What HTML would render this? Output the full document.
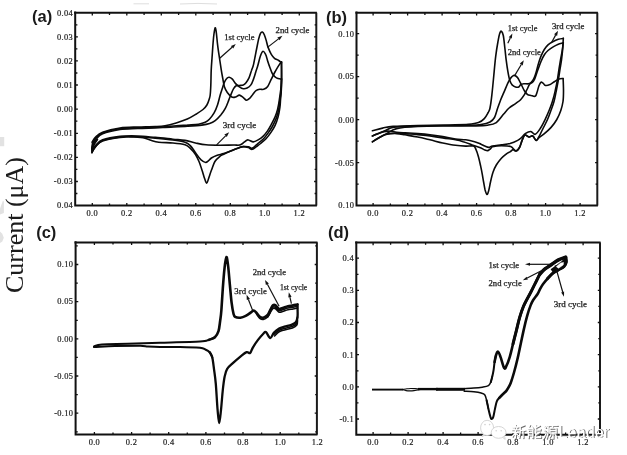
<!DOCTYPE html>
<html><head><meta charset="utf-8"><title>CV curves</title>
<style>
html,body{margin:0;padding:0;background:#fff;}
body{width:627px;height:455px;overflow:hidden;font-family:"Liberation Serif",serif;}
svg{display:block;position:absolute;left:0;top:0;}
.fr{fill:none;stroke:#111;stroke-width:2.0;}
.frr{fill:none;stroke:#1a1a1a;stroke-width:2.0;}
.tk{fill:none;stroke:#111;stroke-width:1.3;}
.tl{font-family:"Liberation Serif",serif;font-size:8.4px;letter-spacing:0.35px;fill:#1c1c1c;stroke:#1c1c1c;stroke-width:0.2;}
.pl{font-family:"Liberation Sans",sans-serif;font-weight:bold;font-size:16.5px;fill:#1a1a1a;}
.cv{fill:none;stroke:#0a0a0a;stroke-width:1.6;stroke-linejoin:round;stroke-linecap:round;}
.cvd{fill:none;stroke:#0a0a0a;stroke-width:2.8;}
.cvo{fill:none;stroke:#0a0a0a;stroke-width:3.0;stroke-linejoin:round;stroke-linecap:round;}
.cvt{fill:none;stroke:#0a0a0a;stroke-width:3.5;stroke-linejoin:round;stroke-linecap:round;}
.cvs{fill:none;stroke:#0a0a0a;stroke-width:1.5;stroke-linejoin:round;stroke-linecap:round;}
.cvm{fill:none;stroke:#0a0a0a;stroke-width:2.0;stroke-linejoin:round;stroke-linecap:round;}
.cvc{fill:none;stroke:#0a0a0a;stroke-width:2.3;stroke-linejoin:round;stroke-linecap:round;}
.cvx{fill:none;stroke:#0a0a0a;stroke-width:1.1;stroke-linejoin:round;stroke-linecap:round;}
.cvb{fill:none;stroke:#0a0a0a;stroke-width:2.6;stroke-linejoin:round;stroke-linecap:round;}
.an{font-family:"Liberation Serif",serif;font-size:8px;fill:#1c1c1c;stroke:#1c1c1c;stroke-width:0.25;}
.ar{fill:none;stroke:#111;stroke-width:1.2;}
.ah{fill:#111;stroke:none;}
.yl{font-family:"Liberation Serif",serif;font-size:24.5px;fill:#1c1c1c;}
svg.blur{filter:blur(0.5px);}
</style></head><body>
<svg width="627" height="455" viewBox="0 0 627 455" class="blur">
<rect width="627" height="455" fill="#fff"/>

<g fill="#e2e2e2">
<rect x="0" y="137" width="4.2" height="9.2"/>
<path d="M0 208.5L3 200.5L3.9 201.5L3.9 213L0 214.6Z"/>
<path d="M0 231.5L2.3 233.8L3.8 237.7L2.3 241.5L0 243Z"/>
</g>
<g stroke="#dedede" stroke-width="1" fill="none">
<path d="M133.5 3.8H149M180 4L198 3.4L217 4"/>
</g>
<text transform="translate(23.3 293.0) rotate(-90)" class="yl" textLength="136" lengthAdjust="spacingAndGlyphs">Current (μA)</text>

<g><path d="M75.2 11.6V205.6H316.9" class="fr"/>
<path d="M74.1 12.7H316.9" class="fr"/>
<path d="M316.3 12.7V205.6" class="frr"/>
<path d="M92.3 12.7v2.7M92.3 205.6v-2.7M109.5 12.7v2.2M109.5 205.6v-2.2M126.8 12.7v2.7M126.8 205.6v-2.7M144.1 12.7v2.2M144.1 205.6v-2.2M161.3 12.7v2.7M161.3 205.6v-2.7M178.6 12.7v2.2M178.6 205.6v-2.2M195.8 12.7v2.7M195.8 205.6v-2.7M213.1 12.7v2.2M213.1 205.6v-2.2M230.3 12.7v2.7M230.3 205.6v-2.7M247.6 12.7v2.2M247.6 205.6v-2.2M264.8 12.7v2.7M264.8 205.6v-2.7M282.1 12.7v2.2M282.1 205.6v-2.2M299.3 12.7v2.7M299.3 205.6v-2.7M75.2 24.8h2.2M316.3 24.8h-1.7M75.2 36.8h2.7M316.3 36.8h-2.2M75.2 48.9h2.2M316.3 48.9h-1.7M75.2 60.9h2.7M316.3 60.9h-2.2M75.2 73.0h2.2M316.3 73.0h-1.7M75.2 85.0h2.7M316.3 85.0h-2.2M75.2 97.1h2.2M316.3 97.1h-1.7M75.2 109.2h2.7M316.3 109.2h-2.2M75.2 121.2h2.2M316.3 121.2h-1.7M75.2 133.3h2.7M316.3 133.3h-2.2M75.2 145.3h2.2M316.3 145.3h-1.7M75.2 157.4h2.7M316.3 157.4h-2.2M75.2 169.4h2.2M316.3 169.4h-1.7M75.2 181.5h2.7M316.3 181.5h-2.2M75.2 193.5h2.2M316.3 193.5h-1.7" class="tk"/>
<text x="73.0" y="15.5" class="tl" text-anchor="end">0.04</text>
<text x="73.0" y="39.7" class="tl" text-anchor="end">0.03</text>
<text x="73.0" y="63.9" class="tl" text-anchor="end">0.02</text>
<text x="73.0" y="88.1" class="tl" text-anchor="end">0.01</text>
<text x="73.0" y="112.1" class="tl" text-anchor="end">0.00</text>
<text x="73.0" y="136.2" class="tl" text-anchor="end">-0.01</text>
<text x="73.0" y="160.3" class="tl" text-anchor="end">-0.02</text>
<text x="73.0" y="184.4" class="tl" text-anchor="end">-0.03</text>
<text x="73.0" y="208.4" class="tl" text-anchor="end">0.04</text>
<text x="92.3" y="215.9" class="tl" text-anchor="middle">0.0</text>
<text x="126.8" y="215.9" class="tl" text-anchor="middle">0.2</text>
<text x="161.3" y="215.9" class="tl" text-anchor="middle">0.4</text>
<text x="195.8" y="215.9" class="tl" text-anchor="middle">0.6</text>
<text x="230.3" y="215.9" class="tl" text-anchor="middle">0.8</text>
<text x="264.8" y="215.9" class="tl" text-anchor="middle">1.0</text>
<text x="299.3" y="215.9" class="tl" text-anchor="middle">1.2</text>
<text x="32.0" y="22.4" class="pl">(a)</text></g>
<g><path d="M356.5 11.6V205.6H597.9" class="fr"/>
<path d="M355.4 12.7H597.9" class="fr"/>
<path d="M597.3 12.7V205.6" class="frr"/>
<path d="M373.1 12.7v2.7M373.1 205.6v-2.7M390.4 12.7v2.2M390.4 205.6v-2.2M407.6 12.7v2.7M407.6 205.6v-2.7M424.9 12.7v2.2M424.9 205.6v-2.2M442.1 12.7v2.7M442.1 205.6v-2.7M459.4 12.7v2.2M459.4 205.6v-2.2M476.6 12.7v2.7M476.6 205.6v-2.7M493.9 12.7v2.2M493.9 205.6v-2.2M511.1 12.7v2.7M511.1 205.6v-2.7M528.4 12.7v2.2M528.4 205.6v-2.2M545.6 12.7v2.7M545.6 205.6v-2.7M562.9 12.7v2.2M562.9 205.6v-2.2M580.1 12.7v2.7M580.1 205.6v-2.7M356.5 33.7h2.7M597.3 33.7h-2.2M356.5 55.2h2.2M597.3 55.2h-1.7M356.5 76.7h2.7M597.3 76.7h-2.2M356.5 98.2h2.2M597.3 98.2h-1.7M356.5 119.6h2.7M597.3 119.6h-2.2M356.5 141.1h2.2M597.3 141.1h-1.7M356.5 162.6h2.7M597.3 162.6h-2.2M356.5 184.1h2.2M597.3 184.1h-1.7" class="tk"/>
<text x="354.3" y="36.5" class="tl" text-anchor="end">0.10</text>
<text x="354.3" y="79.4" class="tl" text-anchor="end">0.05</text>
<text x="354.3" y="122.5" class="tl" text-anchor="end">0.00</text>
<text x="354.3" y="165.5" class="tl" text-anchor="end">-0.05</text>
<text x="354.3" y="208.4" class="tl" text-anchor="end">0.10</text>
<text x="373.1" y="215.9" class="tl" text-anchor="middle">0.0</text>
<text x="407.6" y="215.9" class="tl" text-anchor="middle">0.2</text>
<text x="442.1" y="215.9" class="tl" text-anchor="middle">0.4</text>
<text x="476.6" y="215.9" class="tl" text-anchor="middle">0.6</text>
<text x="511.1" y="215.9" class="tl" text-anchor="middle">0.8</text>
<text x="545.6" y="215.9" class="tl" text-anchor="middle">1.0</text>
<text x="580.1" y="215.9" class="tl" text-anchor="middle">1.2</text>
<text x="326.0" y="23.4" class="pl">(b)</text></g>
<g><path d="M75.6 241.3V434.6H317.5" class="fr"/>
<path d="M74.5 242.4H317.5" class="fr"/>
<path d="M316.9 242.4V434.6" class="frr"/>
<path d="M94.4 242.4v2.7M94.4 434.6v-2.7M113.0 242.4v2.2M113.0 434.6v-2.2M131.6 242.4v2.7M131.6 434.6v-2.7M150.1 242.4v2.2M150.1 434.6v-2.2M168.7 242.4v2.7M168.7 434.6v-2.7M187.3 242.4v2.2M187.3 434.6v-2.2M205.9 242.4v2.7M205.9 434.6v-2.7M224.5 242.4v2.2M224.5 434.6v-2.2M243.0 242.4v2.7M243.0 434.6v-2.7M261.6 242.4v2.2M261.6 434.6v-2.2M280.2 242.4v2.7M280.2 434.6v-2.7M298.8 242.4v2.2M298.8 434.6v-2.2M75.6 245.9h2.2M316.9 245.9h-1.7M75.6 264.5h2.7M316.9 264.5h-2.2M75.6 283.1h2.2M316.9 283.1h-1.7M75.6 301.7h2.7M316.9 301.7h-2.2M75.6 320.3h2.2M316.9 320.3h-1.7M75.6 338.8h2.7M316.9 338.8h-2.2M75.6 357.4h2.2M316.9 357.4h-1.7M75.6 376.0h2.7M316.9 376.0h-2.2M75.6 394.6h2.2M316.9 394.6h-1.7M75.6 413.2h2.7M316.9 413.2h-2.2M75.6 431.8h2.2M316.9 431.8h-1.7" class="tk"/>
<text x="73.4" y="267.3" class="tl" text-anchor="end">0.10</text>
<text x="73.4" y="304.4" class="tl" text-anchor="end">0.05</text>
<text x="73.4" y="341.6" class="tl" text-anchor="end">0.00</text>
<text x="73.4" y="378.8" class="tl" text-anchor="end">-0.05</text>
<text x="73.4" y="416.0" class="tl" text-anchor="end">-0.10</text>
<text x="94.4" y="444.9" class="tl" text-anchor="middle">0.0</text>
<text x="131.6" y="444.9" class="tl" text-anchor="middle">0.2</text>
<text x="168.7" y="444.9" class="tl" text-anchor="middle">0.4</text>
<text x="205.9" y="444.9" class="tl" text-anchor="middle">0.6</text>
<text x="243.0" y="444.9" class="tl" text-anchor="middle">0.8</text>
<text x="280.2" y="444.9" class="tl" text-anchor="middle">1.0</text>
<text x="317.4" y="444.9" class="tl" text-anchor="middle">1.2</text>
<text x="36.2" y="237.8" class="pl">(c)</text></g>
<g><path d="M356.3 241.4V434.8H600.6" class="fr"/>
<path d="M355.2 242.5H600.6" class="fr"/>
<path d="M600.0 242.5V434.8" class="frr"/>
<path d="M373.1 242.5v2.7M373.1 434.8v-2.7M390.6 242.5v2.2M390.6 434.8v-2.2M408.1 242.5v2.7M408.1 434.8v-2.7M425.6 242.5v2.2M425.6 434.8v-2.2M443.1 242.5v2.7M443.1 434.8v-2.7M460.6 242.5v2.2M460.6 434.8v-2.2M478.1 242.5v2.7M478.1 434.8v-2.7M495.6 242.5v2.2M495.6 434.8v-2.2M513.1 242.5v2.7M513.1 434.8v-2.7M530.6 242.5v2.2M530.6 434.8v-2.2M548.1 242.5v2.7M548.1 434.8v-2.7M565.6 242.5v2.2M565.6 434.8v-2.2M583.1 242.5v2.7M583.1 434.8v-2.7M356.3 258.2h2.7M600.0 258.2h-2.2M356.3 274.3h2.2M600.0 274.3h-1.7M356.3 290.4h2.7M600.0 290.4h-2.2M356.3 306.4h2.2M600.0 306.4h-1.7M356.3 322.5h2.7M600.0 322.5h-2.2M356.3 338.6h2.2M600.0 338.6h-1.7M356.3 354.7h2.7M600.0 354.7h-2.2M356.3 370.8h2.2M600.0 370.8h-1.7M356.3 386.8h2.7M600.0 386.8h-2.2M356.3 402.9h2.2M600.0 402.9h-1.7M356.3 419.0h2.7M600.0 419.0h-2.2" class="tk"/>
<text x="354.1" y="261.0" class="tl" text-anchor="end">0.4</text>
<text x="354.1" y="293.3" class="tl" text-anchor="end">0.3</text>
<text x="354.1" y="325.4" class="tl" text-anchor="end">0.2</text>
<text x="354.1" y="357.5" class="tl" text-anchor="end">0.1</text>
<text x="354.1" y="389.6" class="tl" text-anchor="end">0.0</text>
<text x="354.1" y="421.8" class="tl" text-anchor="end">-0.1</text>
<text x="373.1" y="444.9" class="tl" text-anchor="middle">0.0</text>
<text x="408.1" y="444.9" class="tl" text-anchor="middle">0.2</text>
<text x="443.1" y="444.9" class="tl" text-anchor="middle">0.4</text>
<text x="478.1" y="444.9" class="tl" text-anchor="middle">0.6</text>
<text x="513.1" y="444.9" class="tl" text-anchor="middle">0.8</text>
<text x="548.1" y="444.9" class="tl" text-anchor="middle">1.0</text>
<text x="583.1" y="444.9" class="tl" text-anchor="middle">1.2</text>
<text x="328.0" y="238.2" class="pl">(d)</text></g>
<g><path class="cv" d="M92.0 142.2C92.6 141.4 93.7 138.8 95.5 137.2C97.3 135.5 98.5 133.8 102.6 132.3C106.7 130.8 114.2 128.9 120.0 128.0C125.8 127.1 131.8 127.2 137.7 127.0C143.6 126.8 150.8 126.7 155.3 126.5C159.9 126.3 161.5 126.3 165.0 125.7C168.5 125.1 172.5 124.0 176.2 122.9C179.9 121.8 184.0 120.5 187.3 119.0C190.7 117.5 193.7 115.6 196.3 114.0C198.9 112.4 201.2 111.0 203.0 109.5C204.8 108.0 205.9 106.7 206.9 105.0C207.9 103.3 208.6 101.2 209.1 99.5C209.6 97.8 209.9 97.3 210.2 95.0C210.5 92.7 210.6 89.6 210.8 85.5C211.0 81.4 211.0 74.9 211.2 70.4C211.4 65.9 211.7 62.3 212.0 58.3C212.3 54.3 212.5 50.6 212.8 46.6C213.1 42.6 213.5 37.6 213.9 34.5C214.3 31.4 214.8 28.0 215.2 27.8C215.6 27.6 216.0 30.4 216.4 33.4C216.8 36.4 217.1 41.2 217.7 45.6C218.2 50.0 219.1 55.4 219.7 59.5C220.3 63.6 220.8 66.9 221.3 70.2C221.8 73.5 222.4 76.3 222.9 79.1C223.4 81.9 223.7 84.6 224.4 86.8C225.1 89.0 226.1 90.8 227.3 92.5C228.5 94.2 230.4 96.2 231.8 97.0C233.2 97.8 234.3 97.3 235.6 97.0C236.9 96.7 238.1 95.0 239.4 95.1C240.7 95.2 242.1 96.8 243.3 97.6C244.5 98.4 245.4 100.1 246.5 100.2C247.6 100.3 248.5 99.3 249.6 98.3C250.7 97.3 251.7 95.7 252.8 94.4C253.9 93.1 254.8 91.4 256.0 90.6C257.2 89.8 258.5 89.5 259.8 89.3C261.1 89.1 262.4 89.7 263.7 89.3C265.0 88.9 266.2 88.5 267.5 86.8C268.8 85.1 270.0 81.6 271.3 79.1C272.6 76.5 273.9 73.8 275.2 71.5C276.5 69.2 277.9 66.7 279.0 65.1C280.1 63.5 281.1 62.4 281.5 61.9"/>
<path class="cv" d="M92.5 143.5C93.1 142.6 94.3 139.8 96.0 138.0C97.7 136.2 98.6 134.5 102.6 133.0C106.6 131.5 114.2 129.7 120.0 128.8C125.8 127.9 131.8 128.1 137.7 127.8C143.6 127.5 150.8 127.5 155.3 127.3C159.9 127.1 161.5 127.1 165.0 126.8C168.5 126.5 172.5 126.0 176.2 125.7C179.9 125.4 183.6 125.3 187.3 125.1C191.0 124.8 195.5 124.7 198.5 124.2C201.5 123.7 203.3 123.2 205.2 122.3C207.0 121.4 208.1 120.6 209.6 119.0C211.1 117.4 212.8 115.2 214.1 112.9C215.4 110.6 216.5 108.0 217.5 105.0C218.5 102.0 219.4 97.8 220.2 95.0C221.0 92.2 221.7 90.5 222.3 88.5C223.0 86.5 223.4 84.7 224.1 83.0C224.8 81.3 225.8 79.5 226.7 78.5C227.5 77.5 228.2 77.1 229.2 77.2C230.1 77.3 231.3 78.0 232.4 79.1C233.5 80.2 234.4 82.3 235.6 83.6C236.8 84.9 238.1 85.9 239.4 86.8C240.7 87.7 242.0 88.5 243.3 88.7C244.6 88.9 245.8 88.6 247.1 88.0C248.4 87.4 249.8 86.4 250.9 84.9C252.0 83.4 252.7 81.2 253.5 79.1C254.3 77.0 255.0 74.5 255.7 72.2C256.4 69.9 257.1 68.0 257.9 65.2C258.7 62.5 259.6 58.0 260.5 55.7C261.4 53.4 262.1 51.5 263.0 51.3C263.9 51.1 264.9 52.9 265.6 54.4C266.4 55.9 266.8 58.2 267.5 60.4C268.2 62.6 269.1 65.4 270.0 67.7C270.9 70.0 271.5 72.3 272.6 74.0C273.7 75.7 274.9 77.1 276.4 77.9C277.9 78.8 280.6 78.9 281.5 79.1"/>
<path class="cv" d="M93.0 145.0C93.6 144.0 94.9 140.9 96.5 139.0C98.1 137.1 98.7 135.4 102.6 133.8C106.5 132.2 114.2 130.4 120.0 129.5C125.8 128.6 131.8 128.8 137.7 128.5C143.6 128.2 150.8 128.1 155.3 127.9C159.9 127.7 159.7 127.7 165.0 127.4C170.3 127.1 181.2 126.7 187.3 126.3C193.4 125.9 198.1 125.6 201.8 125.1C205.5 124.6 207.4 124.2 209.6 123.5C211.8 122.8 213.3 122.1 215.2 120.7C217.1 119.3 219.1 117.1 220.8 115.1C222.5 113.0 224.0 110.8 225.3 108.4C226.6 106.0 227.7 102.9 228.6 100.6C229.5 98.3 230.2 96.4 231.0 94.4C231.8 92.4 232.7 90.0 233.6 88.6C234.5 87.2 235.2 86.3 236.2 85.8C237.2 85.3 238.2 85.7 239.4 85.5C240.6 85.3 242.2 85.3 243.3 84.9C244.4 84.5 244.9 84.2 245.8 83.0C246.8 81.8 248.0 80.0 249.0 77.9C250.0 75.8 250.8 72.4 251.6 70.2C252.3 68.0 252.8 67.6 253.5 64.6C254.2 61.5 255.2 56.1 256.0 51.9C256.9 47.6 257.9 42.2 258.6 39.1C259.4 36.0 259.9 34.6 260.5 33.4C261.1 32.2 261.8 31.9 262.4 32.1C263.0 32.3 263.7 33.3 264.3 34.7C264.9 36.1 265.6 38.3 266.2 40.4C266.8 42.5 267.2 45.1 268.1 47.4C269.0 49.7 270.2 52.6 271.3 54.4C272.4 56.2 273.3 57.3 274.5 58.3C275.7 59.3 277.1 59.5 278.3 60.2C279.5 60.9 281.0 62.3 281.5 62.7"/>
<path class="cv" d="M281.5 61.9C281.5 64.9 281.8 75.0 281.7 80.0C281.6 85.0 281.4 88.7 281.2 92.0C281.0 95.3 280.7 97.5 280.5 100.0C280.3 102.5 280.3 104.5 279.9 107.3C279.5 110.1 278.9 113.9 278.1 116.9C277.3 119.9 276.3 122.8 275.1 125.4C273.9 128.0 272.3 130.4 270.8 132.6C269.3 134.8 267.7 136.9 266.0 138.7C264.3 140.5 262.2 142.2 260.6 143.5C259.0 144.8 257.7 145.7 256.5 146.6C255.3 147.5 254.4 148.4 253.5 148.8C252.6 149.2 252.1 149.5 251.2 149.3C250.3 149.1 249.7 147.9 248.3 147.5C246.9 147.1 244.8 146.5 243.0 146.6C241.2 146.7 239.8 147.6 237.7 148.3C235.6 149.0 233.0 150.0 230.7 151.0C228.4 152.0 225.5 153.3 223.7 154.2C221.9 155.1 221.6 155.0 220.1 156.2C218.6 157.4 216.3 159.2 214.9 161.5C213.5 163.8 212.5 167.5 211.4 170.3C210.3 173.1 209.4 176.3 208.6 178.5C207.8 180.7 207.4 183.2 206.7 183.2C206.0 183.2 205.3 180.4 204.6 178.5C203.9 176.6 203.5 174.8 202.6 172.0C201.7 169.2 200.2 164.4 199.0 161.5C197.8 158.6 196.9 156.7 195.5 154.5C194.1 152.3 192.1 149.9 190.3 148.3C188.6 146.7 187.9 145.7 185.0 144.8C182.1 143.9 177.3 143.4 172.9 143.0C168.5 142.6 162.6 142.7 158.8 142.2C155.0 141.7 152.6 140.7 150.0 140.0C147.4 139.3 146.3 138.4 143.0 137.8C139.7 137.2 133.8 136.8 130.0 136.6C126.2 136.4 124.7 136.2 120.1 136.9C115.5 137.6 106.7 138.9 102.6 140.6C98.5 142.2 97.3 144.8 95.5 146.8C93.7 148.8 92.6 151.7 92.0 152.7"/>
<path class="cv" d="M281.5 79.1C281.4 81.2 281.3 88.5 281.0 92.0C280.7 95.5 280.3 97.0 279.9 100.0C279.5 103.0 279.3 106.7 278.7 109.7C278.1 112.7 277.3 115.4 276.3 118.1C275.3 120.8 273.9 123.6 272.6 126.0C271.3 128.4 269.9 130.5 268.4 132.6C266.9 134.7 265.3 136.9 263.6 138.7C261.9 140.5 259.6 142.0 258.1 143.3C256.6 144.6 255.5 145.8 254.6 146.6C253.7 147.4 253.2 147.7 252.6 148.0C252.0 148.3 251.9 148.4 251.2 148.2C250.5 148.0 249.7 147.1 248.3 146.8C246.9 146.5 244.8 146.3 243.0 146.6C241.2 146.8 239.8 147.6 237.7 148.3C235.6 149.0 233.0 150.1 230.7 151.0C228.4 151.9 226.0 152.9 223.7 153.6C221.3 154.3 218.6 154.7 216.6 155.4C214.6 156.1 213.2 156.8 211.4 158.0C209.6 159.2 207.8 162.1 206.0 162.4C204.2 162.7 202.6 161.3 200.8 159.7C199.1 158.1 197.2 155.0 195.5 152.7C193.8 150.4 192.1 147.4 190.3 145.7C188.6 143.9 187.9 143.1 185.0 142.2C182.1 141.2 177.8 140.7 172.9 140.0C168.0 139.3 161.2 138.7 155.3 138.2C149.4 137.7 143.6 136.9 137.7 136.8C131.8 136.7 125.9 136.7 120.1 137.4C114.2 138.1 106.6 139.5 102.6 141.0C98.6 142.5 97.7 144.4 96.0 146.2C94.3 147.9 92.9 150.6 92.3 151.5"/>
<path class="cv" d="M281.5 62.7C281.4 66.4 281.6 78.8 281.2 85.0C280.8 91.2 279.9 95.9 279.3 100.0C278.7 104.1 278.2 106.9 277.5 109.7C276.8 112.5 276.1 114.5 275.1 116.9C274.1 119.3 272.7 121.8 271.4 124.2C270.1 126.6 268.6 129.4 267.2 131.4C265.8 133.4 264.5 134.9 263.0 136.3C261.5 137.7 259.7 139.0 258.1 139.9C256.5 140.8 254.7 141.8 253.3 141.9C251.9 142.0 250.7 140.8 249.7 140.5C248.7 140.2 248.3 139.6 247.3 139.9C246.3 140.2 244.9 141.6 243.8 142.4C242.8 143.2 242.0 144.0 241.0 144.5C240.0 145.0 239.1 145.1 238.0 145.2C236.9 145.3 237.2 145.0 234.2 145.0C231.2 145.0 224.7 145.2 220.0 145.2C215.3 145.2 210.1 145.2 206.0 144.8C201.9 144.4 199.0 143.7 195.5 143.0C192.0 142.3 188.8 141.0 185.0 140.4C181.2 139.8 177.8 139.7 172.9 139.2C168.0 138.7 161.2 137.9 155.3 137.4C149.4 136.9 143.6 136.2 137.7 136.0C131.8 135.8 125.9 135.8 120.1 136.4C114.2 137.0 106.7 138.3 102.6 139.8C98.5 141.3 97.2 143.8 95.5 145.5C93.8 147.2 93.0 149.2 92.5 150.0"/>
<path class="cv" d="M92.0 152.7C92.0 152.0 91.8 149.8 91.8 148.5C91.8 147.2 92.0 146.0 92.2 145.0C92.4 144.0 93.0 143.0 93.2 142.6"/>
<path class="cv" d="M92.3 151.5C92.3 150.8 92.4 148.7 92.6 147.5C92.8 146.3 93.0 145.6 93.4 144.6C93.8 143.6 94.7 142.0 95.0 141.5"/>
<path class="cv" d="M92.5 150.0C92.7 149.4 93.0 147.6 93.4 146.5C93.8 145.4 94.3 144.3 95.0 143.2C95.7 142.0 97.1 140.2 97.5 139.6"/>
<path class="cv" d="M372.4 130.8C374.1 130.4 379.2 128.8 382.6 128.1C386.1 127.4 387.2 126.8 393.1 126.4C399.0 126.0 408.4 125.7 417.7 125.5C427.0 125.3 440.6 125.2 449.0 125.0C457.4 124.8 463.4 124.8 468.3 124.4C473.2 124.0 475.8 123.6 478.5 122.6C481.2 121.6 482.7 120.3 484.3 118.6C485.9 116.9 487.2 114.3 488.2 112.5C489.1 110.7 489.4 111.0 490.0 108.0C490.6 105.0 491.3 100.0 491.9 94.6C492.5 89.2 493.2 81.9 493.8 75.5C494.4 69.1 495.0 62.0 495.7 56.4C496.4 50.8 497.2 45.8 497.9 42.0C498.6 38.2 499.1 35.4 499.7 33.6C500.3 31.8 500.7 30.9 501.3 31.2C501.9 31.5 502.7 32.6 503.3 35.5C503.9 38.4 504.4 44.4 504.9 48.5C505.4 52.6 505.7 56.3 506.2 60.2C506.7 64.1 507.3 68.3 507.9 71.7C508.5 75.1 509.1 78.4 509.8 80.6C510.5 82.8 511.3 84.0 512.3 85.1C513.2 86.2 514.4 86.7 515.5 87.0C516.6 87.3 517.9 87.4 518.7 87.0C519.6 86.6 519.8 85.3 520.6 84.8C521.5 84.3 522.5 84.0 523.8 83.8C525.1 83.6 526.9 84.0 528.3 83.8C529.7 83.6 531.0 83.2 532.1 82.5C533.2 81.8 533.7 81.4 534.6 79.3C535.5 77.2 536.7 73.0 537.8 70.0C538.9 67.0 539.9 64.1 541.0 61.5C542.1 58.9 543.3 56.3 544.5 54.5C545.7 52.7 546.5 51.8 548.0 50.5C549.5 49.2 551.9 47.6 553.6 46.6C555.3 45.6 556.7 44.9 558.3 44.2C559.9 43.6 562.5 43.0 563.3 42.7"/>
<path class="cv" d="M372.4 136.0C373.5 135.5 376.7 134.2 379.0 133.2C381.3 132.2 383.5 131.2 386.0 130.2C388.5 129.2 388.7 127.9 394.0 127.2C399.3 126.5 408.5 126.3 417.7 126.0C426.9 125.7 440.6 125.6 449.0 125.5C457.4 125.4 463.0 125.5 468.3 125.3C473.6 125.1 477.4 125.0 481.0 124.5C484.6 124.0 487.8 123.2 490.0 122.0C492.2 120.8 493.2 119.8 494.5 117.5C495.8 115.2 496.7 110.9 497.7 108.0C498.7 105.1 499.6 102.7 500.6 100.0C501.7 97.3 502.6 95.3 504.0 92.1C505.4 88.9 507.5 83.4 509.1 80.6C510.7 77.8 512.2 76.0 513.6 75.5C515.0 75.0 516.2 76.1 517.4 77.4C518.6 78.7 519.4 81.0 520.6 83.2C521.8 85.4 523.2 88.9 524.4 90.8C525.6 92.7 526.5 93.8 527.6 94.6C528.7 95.4 529.7 95.2 531.0 95.5C532.3 95.8 534.4 96.9 535.4 96.2C536.4 95.5 536.7 93.2 537.3 91.5C537.9 89.8 538.2 87.7 538.8 86.2C539.4 84.7 540.1 82.8 540.8 82.3C541.5 81.8 542.3 82.6 543.1 83.1C543.9 83.6 544.2 85.2 545.4 85.4C546.5 85.7 548.5 85.2 550.0 84.6C551.5 83.9 553.2 82.4 554.6 81.5C556.0 80.6 557.1 79.7 558.5 79.2C559.9 78.7 562.3 78.6 563.1 78.5"/>
<path class="cv" d="M372.4 141.8C373.5 141.1 376.7 139.1 379.0 137.8C381.3 136.5 383.1 135.5 386.0 134.0C388.9 132.5 391.3 129.8 396.6 128.6C401.9 127.3 409.0 126.9 417.7 126.5C426.4 126.1 439.5 126.1 449.0 126.0C458.5 125.9 468.2 126.0 474.6 125.9C481.0 125.8 483.8 125.8 487.4 125.2C491.0 124.7 493.6 124.5 496.3 122.6C499.0 120.7 501.6 116.4 503.7 114.0C505.8 111.6 507.1 109.7 509.1 108.0C511.1 106.3 513.6 105.0 515.5 103.6C517.4 102.2 519.1 101.2 520.6 99.7C522.1 98.2 523.3 96.3 524.4 94.6C525.5 92.9 526.1 91.2 527.0 89.5C527.9 87.8 528.4 86.1 529.5 84.4C530.6 82.7 532.3 81.2 533.4 79.3C534.5 77.4 535.0 75.6 535.9 73.0C536.8 70.4 537.6 66.3 538.5 63.5C539.4 60.7 540.0 58.4 541.0 56.1C542.0 53.8 543.1 51.4 544.3 49.5C545.5 47.6 546.6 46.2 548.0 44.9C549.4 43.6 551.0 42.7 552.7 41.8C554.4 40.9 556.5 39.9 558.3 39.3C560.1 38.7 562.5 38.5 563.3 38.4"/>
<path class="cv" d="M563.1 78.5C563.2 80.5 563.5 87.0 563.5 90.8C563.5 94.6 563.5 98.2 563.0 101.5C562.5 104.8 561.8 107.5 560.8 110.5C559.8 113.5 558.4 116.7 556.8 119.5C555.2 122.3 553.2 125.0 551.1 127.4C549.0 129.8 546.2 132.1 544.1 133.8C542.0 135.5 540.1 136.7 538.8 137.8C537.5 138.9 537.2 140.7 536.2 140.4C535.2 140.1 533.9 136.6 532.7 136.0C531.5 135.4 530.4 137.2 529.1 137.0C527.8 136.8 526.0 134.5 524.8 135.1C523.6 135.7 523.0 138.3 522.1 140.4C521.2 142.5 520.5 145.7 519.5 147.5C518.5 149.3 517.1 150.7 516.0 151.0C514.9 151.3 514.0 149.4 513.0 149.6C512.0 149.8 511.1 151.2 510.0 151.9C508.9 152.6 507.9 152.7 506.5 153.8C505.1 154.9 503.1 156.4 501.4 158.3C499.7 160.2 497.7 162.7 496.3 165.0C494.9 167.3 494.1 169.2 493.1 172.0C492.1 174.8 491.2 178.8 490.5 182.0C489.8 185.2 489.2 188.9 488.6 191.0C488.0 193.1 487.5 194.6 486.9 194.4C486.3 194.2 485.7 192.1 485.1 190.0C484.6 187.9 484.1 184.7 483.6 182.0C483.1 179.3 482.7 176.6 482.2 173.8C481.7 171.0 481.0 167.8 480.4 165.0C479.8 162.2 479.2 159.6 478.5 157.0C477.8 154.4 476.8 151.1 475.9 149.3C475.0 147.5 475.1 146.6 473.4 146.1C471.7 145.6 468.7 146.2 465.7 146.1C462.7 146.0 459.3 145.8 455.5 145.3C451.7 144.8 447.1 143.9 442.8 143.0C438.6 142.1 434.2 140.8 430.0 139.8C425.8 138.8 421.9 137.8 417.7 137.0C413.5 136.2 408.5 135.4 405.0 134.8C401.5 134.2 399.8 133.7 396.6 133.6C393.4 133.5 388.9 133.8 386.0 134.5C383.1 135.2 381.3 136.6 379.0 137.8C376.7 139.0 373.5 141.1 372.4 141.8"/>
<path class="cv" d="M563.3 38.4C563.2 40.3 562.9 46.4 562.6 50.0C562.3 53.6 561.9 56.8 561.5 60.0C561.1 63.2 560.5 66.0 560.0 69.2C559.5 72.4 559.1 75.6 558.5 79.2C557.9 82.8 557.0 87.1 556.3 90.8C555.5 94.5 554.9 98.3 554.0 101.5C553.1 104.7 552.3 106.8 551.2 109.8C550.1 112.8 549.0 116.1 547.6 119.3C546.2 122.5 544.3 126.0 542.8 129.0C541.3 131.9 539.9 135.1 538.8 137.0C537.7 138.9 537.2 140.6 536.2 140.4C535.2 140.2 533.9 136.6 532.7 136.0C531.5 135.4 530.4 137.2 529.1 137.0C527.8 136.8 526.0 134.5 524.8 135.1C523.6 135.7 523.0 138.3 522.1 140.4C521.2 142.5 520.5 145.7 519.5 147.5C518.5 149.3 517.5 151.2 516.0 151.0C514.5 150.8 513.1 147.5 510.7 146.6C508.3 145.7 504.4 145.7 501.4 145.7C498.4 145.7 494.3 146.3 492.5 146.8C490.7 147.3 491.4 148.1 490.6 148.7C489.9 149.3 489.0 150.4 488.0 150.6C487.0 150.8 486.2 150.5 484.8 150.0C483.4 149.5 481.8 148.2 479.7 147.4C477.6 146.6 474.9 145.9 472.1 144.9C469.4 143.9 466.0 142.5 463.2 141.7C460.4 140.8 458.9 140.4 455.5 139.8C452.1 139.2 447.1 138.6 442.8 137.9C438.6 137.2 434.2 136.5 430.0 135.9C425.8 135.3 421.9 135.0 417.7 134.6C413.5 134.2 408.5 133.9 405.0 133.6C401.5 133.3 399.4 133.0 396.6 133.0C393.8 133.0 389.4 133.7 388.0 133.8"/>
<path class="cv" d="M563.3 42.7C563.1 44.2 562.5 49.1 562.0 52.0C561.5 54.9 561.0 57.1 560.5 60.0C560.0 62.9 559.5 66.0 559.0 69.2C558.5 72.4 558.1 75.6 557.5 79.2C556.9 82.8 556.1 87.1 555.2 90.8C554.4 94.5 553.4 98.3 552.4 101.5C551.4 104.7 550.6 106.8 549.4 109.8C548.2 112.8 546.7 116.2 545.2 119.3C543.7 122.4 542.0 125.8 540.4 128.3C538.8 130.8 536.9 133.8 535.3 134.3C533.7 134.9 532.5 131.8 530.9 131.6C529.3 131.4 527.2 132.4 525.6 133.4C524.0 134.4 522.5 136.6 521.2 137.8C519.9 139.0 519.6 139.4 517.7 140.4C515.8 141.4 512.7 142.8 510.0 143.6C507.3 144.3 504.3 144.5 501.4 144.9C498.5 145.3 494.6 145.7 492.5 146.1C490.4 146.5 490.0 147.4 488.7 147.4C487.4 147.4 486.1 146.6 484.8 146.1C483.5 145.6 482.7 144.9 481.0 144.2C479.3 143.5 477.2 142.4 474.6 141.7C472.1 141.0 468.9 140.2 465.7 139.8C462.5 139.4 459.3 139.6 455.5 139.1C451.7 138.6 447.1 137.3 442.8 136.6C438.6 135.9 434.2 135.2 430.0 134.7C425.8 134.2 421.9 133.9 417.7 133.6C413.5 133.3 408.5 133.0 405.0 132.8C401.5 132.6 399.1 132.5 396.6 132.2C394.1 131.9 392.1 131.3 390.0 131.2C387.9 131.1 386.0 131.2 384.0 131.6C382.0 132.0 379.9 132.9 378.0 133.6C376.1 134.3 373.3 135.6 372.4 136.0"/>
<path class="cvm" d="M93.9 346.4C95.2 346.1 96.4 344.8 102.0 344.4C107.6 343.9 117.9 344.0 127.6 343.7C137.3 343.4 147.9 343.0 160.0 342.7C172.1 342.4 191.9 342.1 200.0 341.6C208.1 341.1 206.3 340.6 208.8 339.9C211.3 339.2 213.9 337.6 214.9 337.2"/>
<path class="cvb" d="M208.8 339.9C209.8 339.4 213.3 338.7 214.9 337.2C216.5 335.7 217.6 333.9 218.5 331.1C219.4 328.3 219.7 324.0 220.2 320.5C220.7 317.0 221.0 315.3 221.4 310.0C221.8 304.7 222.3 295.8 222.8 288.7C223.3 281.6 224.0 272.9 224.6 267.6C225.2 262.3 225.8 257.3 226.4 257.0C227.0 256.7 227.5 261.1 228.1 265.8C228.7 270.5 229.3 279.0 229.9 285.1C230.5 291.2 231.0 298.0 231.6 302.7C232.2 307.4 232.8 310.9 233.4 313.3C234.0 315.7 233.9 316.1 235.1 316.8C236.3 317.5 238.6 317.9 240.4 317.7C242.2 317.5 243.9 316.8 245.7 315.9C247.5 315.0 249.7 313.3 251.0 312.4C252.3 311.5 252.7 310.6 253.6 310.6C254.5 310.6 255.2 311.4 256.2 312.4C257.2 313.4 258.6 315.9 259.8 316.8C261.0 317.7 262.0 318.0 263.3 317.7C264.6 317.4 266.5 316.3 267.7 315.0C268.9 313.7 269.4 311.4 270.3 309.8C271.2 308.2 272.0 306.1 272.9 305.4C273.8 304.7 274.6 304.8 275.6 305.4C276.6 306.0 277.9 308.5 279.1 308.9C280.3 309.3 281.1 308.4 282.6 308.0C284.1 307.6 286.1 306.6 287.9 306.2C289.6 305.8 291.5 305.7 293.1 305.4C294.7 305.1 296.8 304.6 297.5 304.5"/>
<path class="cvc" d="M297.5 304.5C297.5 305.4 297.6 307.9 297.6 310.0C297.6 312.1 297.8 314.9 297.5 317.0C297.2 319.1 296.8 321.0 295.8 322.3C294.8 323.6 293.3 324.2 291.4 324.9C289.5 325.6 286.4 326.1 284.4 326.7C282.3 327.3 280.9 327.5 279.1 328.5C277.3 329.5 275.3 331.2 273.8 332.8C272.3 334.4 271.6 338.2 270.3 338.1C269.0 338.0 267.1 332.7 265.9 332.0C264.7 331.3 264.6 332.4 263.3 333.7C262.0 335.0 259.8 337.5 258.0 339.9C256.2 342.2 254.0 345.6 252.7 347.8C251.4 350.0 251.1 352.4 250.1 353.1C249.1 353.8 248.2 351.6 246.6 352.2C245.0 352.8 242.6 354.9 240.4 356.6C238.2 358.4 235.6 360.6 233.4 362.7C231.2 364.8 228.7 366.5 227.2 368.9C225.7 371.2 225.3 373.3 224.6 376.8C223.9 380.3 223.4 384.5 222.8 390.0C222.2 395.5 221.6 404.5 221.0 410.0C220.4 415.5 219.8 423.0 219.2 423.0C218.6 423.0 218.2 416.5 217.6 410.0C217.0 403.5 216.4 390.5 215.8 383.8C215.2 377.1 214.7 374.2 214.1 369.8C213.5 365.4 213.0 360.4 212.3 357.5C211.6 354.6 210.1 353.1 209.7 352.2"/>
<path class="cvm" d="M212.3 357.5C211.9 356.6 210.9 353.5 209.7 352.2C208.5 350.9 206.9 350.2 205.3 349.5C203.7 348.8 204.2 348.2 200.0 347.8C195.8 347.4 186.7 347.1 180.0 347.0C173.3 346.9 165.3 347.0 160.0 346.9C154.7 346.8 151.3 346.6 148.0 346.4C144.7 346.2 145.8 345.9 140.3 345.8C134.8 345.8 122.5 345.9 114.8 346.1C107.1 346.3 97.4 346.8 93.9 346.9"/>
<path class="cv" d="M270.3 311.5C270.7 310.8 272.0 307.9 272.9 307.2C273.8 306.5 274.6 306.8 275.6 307.4C276.6 308.0 277.9 310.3 279.1 310.7C280.3 311.1 281.1 310.2 282.6 309.8C284.1 309.4 286.1 308.4 287.9 308.0C289.6 307.6 291.5 307.5 293.1 307.2C294.7 306.9 296.8 306.4 297.5 306.3"/>
<path class="cv" d="M267.7 317.0C268.1 316.2 269.4 313.9 270.3 312.5C271.2 311.1 272.0 309.2 272.9 308.6C273.8 308.0 274.6 308.2 275.6 308.8C276.6 309.4 277.9 311.8 279.1 312.2C280.3 312.6 281.1 311.9 282.6 311.5C284.1 311.1 286.1 310.2 287.9 309.8C289.6 309.4 291.5 309.3 293.1 309.0C294.7 308.7 296.8 308.2 297.5 308.0"/>
<path class="cv" d="M256.2 313.5C256.8 314.3 258.6 317.3 259.8 318.3C261.0 319.3 262.0 319.7 263.3 319.5C264.6 319.3 266.5 318.2 267.7 317.0C268.9 315.8 269.9 312.8 270.3 312.0"/>
<path class="cv" d="M297.5 317.0C297.3 318.1 297.4 321.9 296.5 323.5C295.6 325.1 294.0 325.7 292.0 326.5C290.0 327.3 286.5 327.8 284.4 328.4C282.2 329.0 280.9 329.2 279.1 330.2C277.3 331.2 274.7 333.8 273.8 334.5"/>
<path class="cv" d="M297.5 320.0C297.4 320.8 297.7 323.7 296.8 325.0C295.9 326.3 294.5 327.2 292.4 328.0C290.3 328.8 286.6 329.4 284.4 330.0C282.2 330.6 280.8 330.8 279.1 331.8C277.5 332.8 275.3 335.3 274.5 336.0"/>
<path d="M372 389.6H403" fill="none" stroke="#0a0a0a" stroke-width="1.9"/>
<path class="cvx" d="M403.0 389.4C403.7 389.3 405.7 388.9 407.0 388.8C408.3 388.7 409.7 388.5 411.0 388.5C412.3 388.5 413.7 388.5 415.0 388.6C416.3 388.7 418.3 388.9 419.0 389.0"/>
<path class="cvx" d="M403.0 389.8C403.5 389.9 404.8 390.4 406.0 390.6C407.2 390.8 408.7 390.9 410.0 390.9C411.3 390.9 412.7 390.8 414.0 390.6C415.3 390.4 416.8 390.1 418.0 389.9C419.2 389.7 420.5 389.4 421.0 389.3"/>
<path d="M418 389.1H438" fill="none" stroke="#0a0a0a" stroke-width="2.4"/>
<path d="M436 389.3H465" fill="none" stroke="#0a0a0a" stroke-width="3.0"/>
<path class="cvs" d="M464.2 388.7C465.8 388.6 470.9 388.4 473.9 388.1C476.9 387.9 479.9 387.6 482.3 387.2C484.7 386.8 487.0 386.5 488.4 385.7C489.8 384.9 490.1 383.7 490.8 382.1C491.5 380.5 492.1 377.0 492.4 376.0"/>
<path class="cvm" d="M490.8 382.1C491.1 381.1 491.9 378.0 492.4 376.0C492.9 374.0 493.2 372.3 493.6 370.0C494.0 367.7 494.2 364.5 494.6 362.0C495.0 359.5 495.8 356.3 496.0 355.2"/>
<path class="cvb" d="M494.6 362.0C494.8 360.9 495.4 356.9 496.0 355.2C496.6 353.5 497.2 351.3 498.0 351.6C498.8 351.9 499.6 354.4 500.6 357.1C501.6 359.9 503.2 366.6 504.2 368.1C505.2 369.6 505.5 367.7 506.4 365.9C507.3 364.1 508.6 360.8 509.7 357.1C510.8 353.5 511.9 348.4 513.0 344.0C514.1 339.6 515.2 335.2 516.3 330.8C517.4 326.4 518.4 321.7 519.6 317.6C520.8 313.6 522.2 309.4 523.4 306.5C524.6 303.6 525.3 302.4 526.6 300.0C527.9 297.6 529.5 294.6 531.0 291.8C532.5 289.0 533.9 285.9 535.4 283.0C536.9 280.1 538.1 276.6 539.8 274.2C541.4 271.8 543.3 270.3 545.3 268.7C547.3 267.1 549.7 265.8 551.9 264.3C554.1 262.8 556.2 261.1 558.5 259.9C560.8 258.7 564.5 257.6 565.7 257.2"/>
<path class="cvo" d="M513.0 344.0C513.5 341.8 515.2 335.2 516.3 330.8C517.4 326.4 518.4 321.7 519.6 317.6C520.8 313.6 522.2 309.4 523.4 306.5C524.6 303.6 525.3 302.4 526.6 300.0C527.9 297.6 529.5 294.6 531.0 291.8C532.5 289.0 533.9 285.9 535.4 283.0C536.9 280.1 539.1 275.7 539.8 274.2"/>
<path class="cvt" d="M539.8 274.2C540.7 273.3 543.3 270.3 545.3 268.7C547.3 267.1 549.7 265.8 551.9 264.3C554.1 262.8 556.2 261.1 558.5 259.9C560.8 258.7 564.5 257.6 565.7 257.2"/>
<path class="cvs" d="M464.2 391.2C465.8 391.3 471.1 391.5 473.9 391.8C476.7 392.1 479.3 392.5 481.1 393.0C482.9 393.5 483.8 393.6 484.7 394.8C485.6 396.0 486.0 397.9 486.6 400.2C487.2 402.5 488.1 407.3 488.4 408.7"/>
<path class="cvm" d="M486.6 400.2C486.9 401.6 487.8 406.1 488.4 408.7C489.0 411.3 489.7 414.3 490.2 416.0C490.7 417.7 490.9 418.8 491.4 419.0C491.9 419.2 492.6 418.9 493.2 417.2C493.8 415.5 494.4 411.3 495.0 408.7C495.6 406.1 496.1 403.2 496.8 401.4C497.5 399.6 498.3 399.0 499.3 397.8C500.3 396.6 502.3 394.8 502.9 394.2"/>
<path class="cvb" d="M499.3 397.8C499.9 397.2 501.7 395.4 502.9 394.2C504.1 393.0 505.4 392.0 506.5 390.6C507.6 389.2 508.6 387.4 509.5 385.7C510.4 384.0 510.9 382.5 511.6 380.3C512.4 378.1 513.0 376.0 514.0 372.5C515.0 369.0 516.3 364.1 517.4 359.3C518.5 354.6 519.6 349.1 520.7 344.0C521.8 338.9 522.9 333.4 524.0 328.6C525.1 323.8 526.2 319.3 527.3 315.4C528.4 311.5 529.6 308.0 530.6 305.4C531.6 302.8 532.0 301.9 533.2 300.0C534.4 298.1 536.5 295.7 537.6 294.0C538.7 292.3 538.9 291.2 539.8 289.6C540.7 288.0 541.8 285.9 543.1 284.1C544.4 282.3 545.9 280.4 547.5 278.6C549.1 276.8 551.2 274.6 553.0 273.1C554.8 271.6 556.7 270.9 558.5 269.8C560.3 268.7 562.7 267.8 564.0 266.5C565.3 265.2 565.9 263.7 566.2 262.1C566.5 260.6 565.8 258.0 565.7 257.2"/>
<path class="cvo" d="M547.5 278.6C548.4 277.7 551.2 274.6 553.0 273.1C554.8 271.6 556.7 270.9 558.5 269.8C560.3 268.7 562.7 267.8 564.0 266.5C565.3 265.2 565.9 263.7 566.2 262.1C566.5 260.6 565.8 258.0 565.7 257.2"/>
<path d="M550.6 269.2L561.6 261.3L566.2 256.2L566.6 262.2L564.6 265.4L561.6 267.3L553 272.4Z" fill="#0a0a0a"/>
<path d="M556.2 266.8L560.6 263.0L563.6 262.4L563.2 265.0L558.6 268.2Z" fill="#fff" stroke="#fff" stroke-width="0.5" stroke-linejoin="round"/>
<text class="an" x="224.3" y="39.8" textLength="30.2" lengthAdjust="spacingAndGlyphs">1st cycle</text>
<path class="ar" d="M219.7 58.3L232.1 47.3"/>
<path class="ah" d="M235.8 44.0L233.2 48.6L230.9 46.0Z"/>
<text class="an" x="275.6" y="33.0" textLength="33.8" lengthAdjust="spacingAndGlyphs">2nd cycle</text>
<path class="ar" d="M267.5 47.4L278.5 38.9"/>
<path class="ah" d="M282.4 35.8L279.5 40.2L277.4 37.5Z"/>
<text class="an" x="222.8" y="128.2" textLength="33.4" lengthAdjust="spacingAndGlyphs">3rd cycle</text>
<path class="ar" d="M216.6 144.8L225.6 135.8"/>
<path class="ah" d="M229.1 132.3L226.8 137.0L224.4 134.6Z"/>
<text class="an" x="507.8" y="30.6" textLength="29.6" lengthAdjust="spacingAndGlyphs">1st cycle</text>
<path class="ar" d="M507.8 43.2L510.3 37.9"/>
<path class="ah" d="M512.4 33.4L511.8 38.6L508.7 37.2Z"/>
<text class="an" x="552.0" y="28.8" textLength="32.3" lengthAdjust="spacingAndGlyphs">3rd cycle</text>
<path class="ar" d="M551.7 42.2L555.6 35.1"/>
<path class="ah" d="M558.0 30.7L557.1 35.9L554.1 34.3Z"/>
<text class="an" x="507.8" y="54.6" textLength="33.0" lengthAdjust="spacingAndGlyphs">2nd cycle</text>
<path class="ar" d="M514.8 75.4L521.3 64.5"/>
<path class="ah" d="M523.8 60.2L522.7 65.4L519.8 63.6Z"/>
<text class="an" x="234.3" y="293.9" textLength="32.5" lengthAdjust="spacingAndGlyphs">3rd cycle</text>
<path class="ar" d="M252.7 310.6L248.4 299.5"/>
<path class="ah" d="M246.6 294.8L250.0 298.9L246.8 300.1Z"/>
<text class="an" x="252.7" y="274.6" textLength="33.4" lengthAdjust="spacingAndGlyphs">2nd cycle</text>
<path class="ar" d="M279.1 306.2L267.4 284.3"/>
<path class="ah" d="M265.0 279.9L268.9 283.5L265.9 285.1Z"/>
<text class="an" x="280.0" y="289.5" textLength="27.2" lengthAdjust="spacingAndGlyphs">1st cycle</text>
<path class="ar" d="M291.4 303.6L289.9 297.1"/>
<path class="ah" d="M288.8 292.2L291.6 296.7L288.3 297.5Z"/>
<text class="an" x="488.5" y="267.6" textLength="30.7" lengthAdjust="spacingAndGlyphs">1st cycle</text>
<path class="ar" d="M551.9 264.3L530.0 264.3"/>
<path class="ah" d="M525.0 264.3L530.0 262.8L530.0 265.8Z"/>
<text class="an" x="488.5" y="286.0" textLength="33.3" lengthAdjust="spacingAndGlyphs">2nd cycle</text>
<path class="ar" d="M549.7 266.5L527.2 278.0"/>
<path class="ah" d="M522.8 280.3L526.6 276.7L527.9 279.4Z"/>
<text class="an" x="553.8" y="306.6" textLength="33.2" lengthAdjust="spacingAndGlyphs">3rd cycle</text>
<path class="ar" d="M555.2 265.4L562.7 292.0"/>
<path class="ah" d="M564.0 296.8L561.2 292.4L564.1 291.6Z"/></g>
<g fill="none" stroke-linecap="round" stroke-linejoin="round"><path d="M515.3 424.9L515.5 426.1M512.5 427.0L518.2 427.0M513.9 427.9L514.4 429.4M516.9 427.9L516.4 429.4M512.0 429.9L518.6 429.9M512.5 432.4L518.3 432.4M515.4 429.9L515.4 437.5L514.7 437.0M515.2 433.3L512.4 436.2M515.6 433.3L518.3 435.6M524.2 425.2L520.2 426.7M520.2 426.7L520.2 432.2L519.0 437.5M520.2 430.3L525.1 430.3M523.0 430.3L523.0 437.7M529.8 425.0L527.9 428.5L532.8 428.0M531.6 426.6L533.2 429.1M528.3 430.1L528.3 437.9M528.3 430.1L532.8 430.1L532.8 437.9L531.8 437.5M528.3 432.6L532.8 432.6M528.3 435.0L532.8 435.0M539.6 425.6L535.7 427.7M535.7 425.0L535.7 430.1L540.2 430.1L540.2 428.9M539.6 432.4L535.7 434.6M535.7 431.9L535.7 437.5L540.6 437.5L540.6 436.0M544.3 426.0L545.9 427.6M543.7 429.6L545.3 431.0M543.7 437.8L545.9 434.0M546.9 425.6L557.3 425.6M548.1 425.6L548.1 432.6L546.5 438.2M552.7 426.0L551.7 428.0M549.9 428.2L556.1 428.2L556.1 433.2L549.9 433.2L549.9 428.2M549.9 430.7L556.1 430.7M553.0 433.2L553.0 438.4L552.1 437.8M550.9 434.6L549.5 437.2M555.1 434.6L556.7 437.2" stroke="#6e6e6e" stroke-width="1.35" transform="translate(0.9 0.8)"/><path d="M515.3 424.9L515.5 426.1M512.5 427.0L518.2 427.0M513.9 427.9L514.4 429.4M516.9 427.9L516.4 429.4M512.0 429.9L518.6 429.9M512.5 432.4L518.3 432.4M515.4 429.9L515.4 437.5L514.7 437.0M515.2 433.3L512.4 436.2M515.6 433.3L518.3 435.6M524.2 425.2L520.2 426.7M520.2 426.7L520.2 432.2L519.0 437.5M520.2 430.3L525.1 430.3M523.0 430.3L523.0 437.7M529.8 425.0L527.9 428.5L532.8 428.0M531.6 426.6L533.2 429.1M528.3 430.1L528.3 437.9M528.3 430.1L532.8 430.1L532.8 437.9L531.8 437.5M528.3 432.6L532.8 432.6M528.3 435.0L532.8 435.0M539.6 425.6L535.7 427.7M535.7 425.0L535.7 430.1L540.2 430.1L540.2 428.9M539.6 432.4L535.7 434.6M535.7 431.9L535.7 437.5L540.6 437.5L540.6 436.0M544.3 426.0L545.9 427.6M543.7 429.6L545.3 431.0M543.7 437.8L545.9 434.0M546.9 425.6L557.3 425.6M548.1 425.6L548.1 432.6L546.5 438.2M552.7 426.0L551.7 428.0M549.9 428.2L556.1 428.2L556.1 433.2L549.9 433.2L549.9 428.2M549.9 430.7L556.1 430.7M553.0 433.2L553.0 438.4L552.1 437.8M550.9 434.6L549.5 437.2M555.1 434.6L556.7 437.2" stroke="#fff" stroke-width="1.3"/></g><g font-family="Liberation Sans, sans-serif" font-size="16.6px"><text x="559.6" y="438.4" fill="#6e6e6e" textLength="50.5" lengthAdjust="spacingAndGlyphs">Leader</text><text x="558.6" y="437.6" fill="#fff" textLength="50.5" lengthAdjust="spacingAndGlyphs">Leader</text></g><g stroke="#d0d0d0" stroke-width="0.9" fill="#fff"><path d="M483.6 434.0l-1.6 2.4l3.4-1.4z"/><ellipse cx="487.1" cy="427.9" rx="6.5" ry="7.6"/><path d="M502.6 437.4l2.6 2.0l-0.6-3.2z"/><ellipse cx="498.6" cy="432.4" rx="7.4" ry="5.9"/></g><g fill="#d0d0d0"><circle cx="485.0" cy="424.6" r="0.8"/><circle cx="489.6" cy="424.6" r="0.8"/><circle cx="496.2" cy="430.8" r="0.75"/><circle cx="501.2" cy="430.8" r="0.75"/></g>
</svg>
</body></html>
